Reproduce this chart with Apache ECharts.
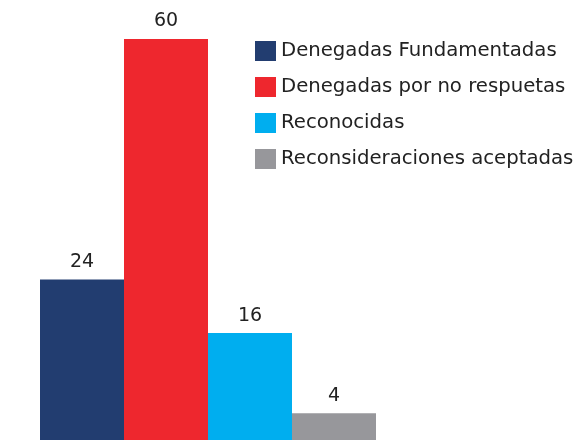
<!DOCTYPE html>
<html>
<head>
<meta charset="utf-8">
<script src="https://cdn.jsdelivr.net/npm/echarts@6/dist/echarts.min.js"></script>
<style>
html,body{margin:0;padding:0;background:#fff;}
#main{width:576px;height:440px;}
</style>
</head>
<body>
<div id="main"></div>
<script>
const categories = ["Denegadas Fundamentadas", "Denegadas por no respuetas", "Reconocidas", "Reconsideraciones aceptadas"];
const values = [24, 60, 16, 4];
const colors = ["#223D70", "#EE272E", "#00AEEF", "#97979B"];

const FONT = "DejaVu Sans";
const chart = echarts.init(document.getElementById('main'), null, {renderer: 'canvas'});
const series = categories.map((name, i) => ({
  name: name,
  type: 'bar',
  stack: 'all',
  barWidth: '100%',
  itemStyle: {color: colors[i]},
  label: {
    show: true,
    position: 'top',
    distance: 8,
    fontFamily: FONT,
    fontSize: 19,
    color: '#222'
  },
  data: categories.map((c, j) => j === i ? values[i] : '-')
}));
chart.setOption({
  animation: false,
  grid: {left: 40, right: 200, top: 39, bottom: 0},
  xAxis: {type: 'category', data: categories, show: false, boundaryGap: true},
  yAxis: {type: 'value', min: 0, max: 60, show: false},
  legend: {
    orient: 'vertical',
    left: 255,
    top: 41,
    padding: 0,
    itemWidth: 21,
    itemHeight: 20,
    itemGap: 16,
    icon: 'rect',
    textStyle: {fontFamily: FONT, fontSize: 19.7, color: '#222'},
    data: categories
  },
  series: series
});
</script>
</body>
</html>
